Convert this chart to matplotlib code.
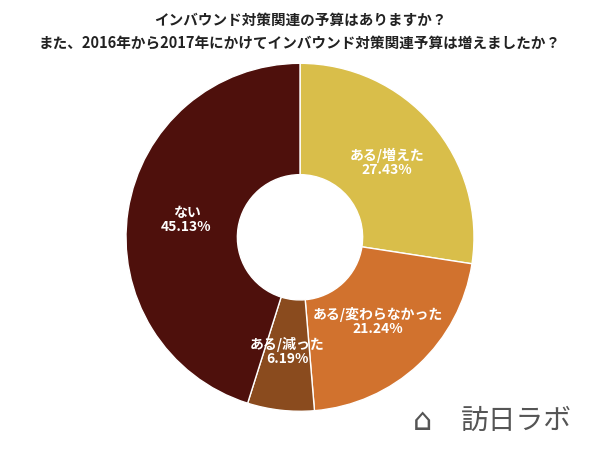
import matplotlib
matplotlib.use("Agg")
import matplotlib.pyplot as plt
import numpy as np

labels = ["ある/増えた", "ある/変わらなかった", "ある/減った", "ない"]
values = [27.43, 21.24, 6.19, 45.13]
colors = ["#D9BE4A", "#D1722E", "#8A4B1E", "#4E100C"]

plt.rcParams["font.family"] = "Noto Sans CJK JP"
fig = plt.figure(figsize=(6, 4.49), dpi=100)
fig.text(0.5, 0.955, "インバウンド対策関連の予算はありますか？", ha="center", va="center", fontsize=10.5, fontweight="bold", color="#222")
fig.text(0.5, 0.905, "また、2016年から2017年にかけてインバウンド対策関連予算は増えましたか？", ha="center", va="center", fontsize=10.5, fontweight="bold", color="#222")

ax = fig.add_axes([0.21, 0.084, 0.58, 0.775])
wedges, _ = ax.pie(values, colors=colors, startangle=90, counterclock=False,
                   wedgeprops=dict(width=0.64, edgecolor="white", linewidth=1))
for w, lab, v in zip(wedges, labels, values):
    ang = np.deg2rad((w.theta1 + w.theta2) / 2)
    r = 0.66
    ax.text(r * np.cos(ang), r * np.sin(ang), f"{lab}\n{v:.2f}%", ha="center", va="center",
            color="white", fontsize=10, fontweight="bold", linespacing=1.0)
ax.set_xlim(-1, 1); ax.set_ylim(-1, 1)
ax.set_aspect("equal")

fig.text(0.705, 0.062, "⌂", fontsize=22, color="#555", ha="center", va="center", family="DejaVu Sans")
fig.text(0.86, 0.062, "訪日ラボ", fontsize=20, color="#555", ha="center", va="center")
fig.savefig("out.png", dpi=100)
